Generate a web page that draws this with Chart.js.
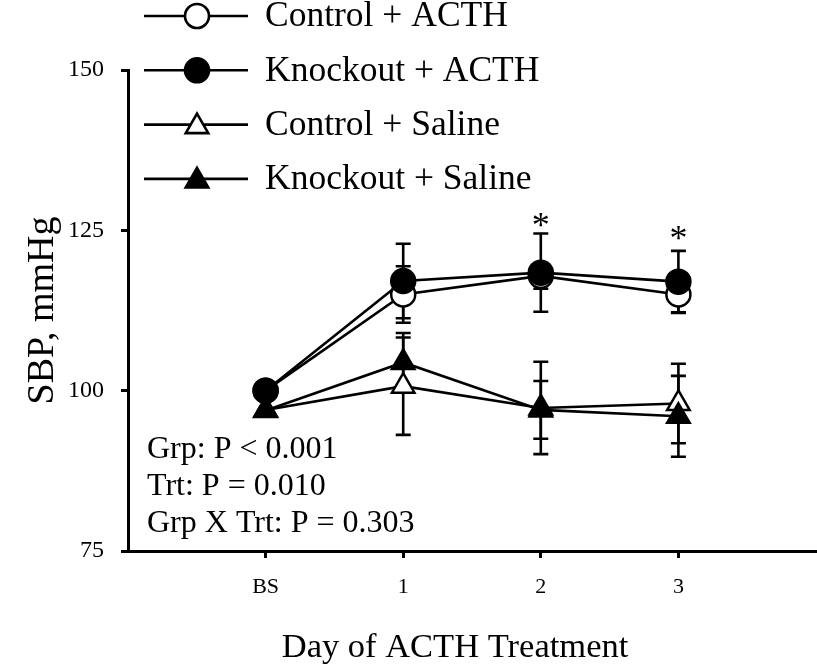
<!DOCTYPE html>
<html>
<head>
<meta charset="utf-8">
<script src="https://cdn.jsdelivr.net/npm/chart.js"></script>
<style>
  html, body { margin: 0; padding: 0; background: #fff; }
  canvas { display: block; }
</style>
</head>
<body>
<canvas id="myCanvas" width="817" height="667"></canvas>
<script>
// x positions and their labels
const dayLabels = ['BS', '1', '2', '3']
const dayPos = [0, 1, 2, 3]
const yTicks = [75, 100, 125, 150]

// SBP means and SD
const controlActh = [100, 115.0, 117.9, 115.0]
const controlActhSd = [0, 4.4, 2.0, 2.9]
const knockoutActh = [100, 117.1, 118.4, 117.0]
const knockoutActhSd = [0, 5.8, 6.1, 4.8]
const controlSaline = [97, 100.7, 97.3, 98.0]
const controlSalineSd = [0, 7.6, 7.2, 6.2]
const knockoutSaline = [96.9, 104.4, 97.0, 96.0]
const knockoutSalineSd = [0, 4.6, 4.5, 6.3]

// significance stars
const starDays = [2, 3]
const starValues = [126.3, 124.3]

const statLines = ['Grp: P < 0.001', 'Trt: P = 0.010', 'Grp X Trt: P = 0.303']
const xTitle = 'Day of ACTH Treatment'
const yTitle = 'SBP, mmHg'

const serif = "'Liberation Serif', 'Times New Roman', serif"
Chart.defaults.font.family = serif
Chart.defaults.color = '#000'

function pts(vals) {
    return vals.map((v, i) => ({ x: dayPos[i], y: v }))
}

function series(label, vals, sd, style, filled, order) {
    return {
        label: label,
        data: pts(vals),
        sd: sd,
        borderColor: '#000',
        borderWidth: 2.6,
        tension: 0,
        pointStyle: style,
        pointRadius: style == 'triangle' ? 13 : 12,
        pointBorderWidth: 2.5,
        pointBorderColor: '#000',
        pointBackgroundColor: filled ? '#000' : '#fff',
        order: order
    }
}

function marker(ctx, style, r, x, y, filled) {
    ctx.beginPath()
    if (style == 'triangle') {
        let a = 0
        ctx.moveTo(x + Math.sin(a) * r, y - Math.cos(a) * r)
        a += Math.PI * 2 / 3
        ctx.lineTo(x + Math.sin(a) * r, y - Math.cos(a) * r)
        a += Math.PI * 2 / 3
        ctx.lineTo(x + Math.sin(a) * r, y - Math.cos(a) * r)
        ctx.closePath()
    } else {
        ctx.arc(x, y, r, 0, Math.PI * 2)
    }
    ctx.fillStyle = filled ? '#000' : '#fff'
    ctx.fill()
    ctx.stroke()
}

const errorBars = {
    id: 'errorBars',
    beforeDatasetsDraw(chart) {
        const ctx = chart.ctx
        const y = chart.scales.y
        ctx.save()
        ctx.strokeStyle = '#000'
        ctx.lineWidth = 2.6
        chart.data.datasets.forEach((ds, i) => {
            const meta = chart.getDatasetMeta(i)
            meta.data.forEach((p, j) => {
                const sd = ds.sd[j]
                if (!sd) return
                const v = ds.data[j].y
                const top = y.getPixelForValue(v + sd)
                const bot = y.getPixelForValue(v - sd)
                ctx.beginPath()
                ctx.moveTo(p.x, top)
                ctx.lineTo(p.x, bot)
                ctx.moveTo(p.x - 7.5, top)
                ctx.lineTo(p.x + 7.5, top)
                ctx.moveTo(p.x - 7.5, bot)
                ctx.lineTo(p.x + 7.5, bot)
                ctx.stroke()
            })
        })
        ctx.restore()
    }
}

const extras = {
    id: 'extras',
    afterDraw(chart) {
        const ctx = chart.ctx
        const area = chart.chartArea
        const xs = chart.scales.x
        const ys = chart.scales.y
        ctx.save()

        // legend
        chart.data.datasets.forEach((ds, i) => {
            const cy = 16 + i * 54.3
            ctx.strokeStyle = '#000'
            ctx.lineWidth = 2.6
            ctx.beginPath()
            ctx.moveTo(144, cy)
            ctx.lineTo(248, cy)
            ctx.stroke()
            marker(ctx, ds.pointStyle, ds.pointRadius, 197, ds.pointStyle == 'triangle' ? cy + 2 : cy, ds.pointBackgroundColor == '#000')
            ctx.fillStyle = '#000'
            ctx.font = '35.5px ' + serif
            ctx.textAlign = 'left'
            ctx.textBaseline = 'middle'
            ctx.fillText(ds.label, 265, cy + 1)
        })

        // stats
        ctx.font = '32px ' + serif
        ctx.textBaseline = 'alphabetic'
        statLines.forEach((t, i) => {
            ctx.fillText(t, area.left + 19, area.bottom - 93 + i * 37)
        })

        // stars
        ctx.font = '36px ' + serif
        ctx.textAlign = 'center'
        starDays.forEach((d, i) => {
            ctx.fillText('*', xs.getPixelForValue(d), ys.getPixelForValue(starValues[i]) + 15)
        })

        // axis titles
        ctx.font = '34.5px ' + serif
        ctx.fillText(xTitle, 455, 657)
        ctx.translate(53, (area.top + area.bottom) / 2)
        ctx.rotate(-Math.PI / 2)
        ctx.font = '38px ' + serif
        ctx.fillText(yTitle, 0, 0)
        ctx.restore()
    }
}

const axisGrid = { drawOnChartArea: false, tickLength: 7, tickWidth: 3, tickColor: '#000' }
const axisBorder = { color: '#000', width: 3 }

let grafic = document.querySelector('#myCanvas').getContext('2d')
let myChart = new Chart(grafic, {
    type: 'line',
    data: {
        datasets: [
            series('Control + ACTH', controlActh, controlActhSd, 'circle', false, 1),
            series('Knockout + ACTH', knockoutActh, knockoutActhSd, 'circle', true, 0),
            series('Control + Saline', controlSaline, controlSalineSd, 'triangle', false, 1),
            series('Knockout + Saline', knockoutSaline, knockoutSalineSd, 'triangle', true, 0)
        ]
    },
    options: {
        responsive: false,
        animation: false,
        layout: { autoPadding: false, padding: { top: 70, right: 1, left: 0, bottom: 0 } },
        plugins: {
            legend: { display: false },
            tooltip: { enabled: false }
        },
        scales: {
            x: {
                type: 'linear',
                min: -1,
                max: 4,
                afterBuildTicks: s => { s.ticks = dayPos.map(v => ({ value: v })) },
                afterFit: s => { s.height = 116 },
                ticks: {
                    callback: v => dayLabels[dayPos.indexOf(v)],
                    font: { size: 22 },
                    color: '#000',
                    padding: 16,
                    maxRotation: 0,
                    autoSkip: false
                },
                grid: axisGrid,
                border: axisBorder
            },
            y: {
                min: 75,
                max: 150,
                afterBuildTicks: s => { s.ticks = yTicks.map(v => ({ value: v })) },
                afterFit: s => { s.width = 128 },
                ticks: { font: { size: 24 }, color: '#000', padding: 17 },
                grid: axisGrid,
                border: axisBorder
            }
        }
    },
    plugins: [errorBars, extras]
})
</script>
</body>
</html>
